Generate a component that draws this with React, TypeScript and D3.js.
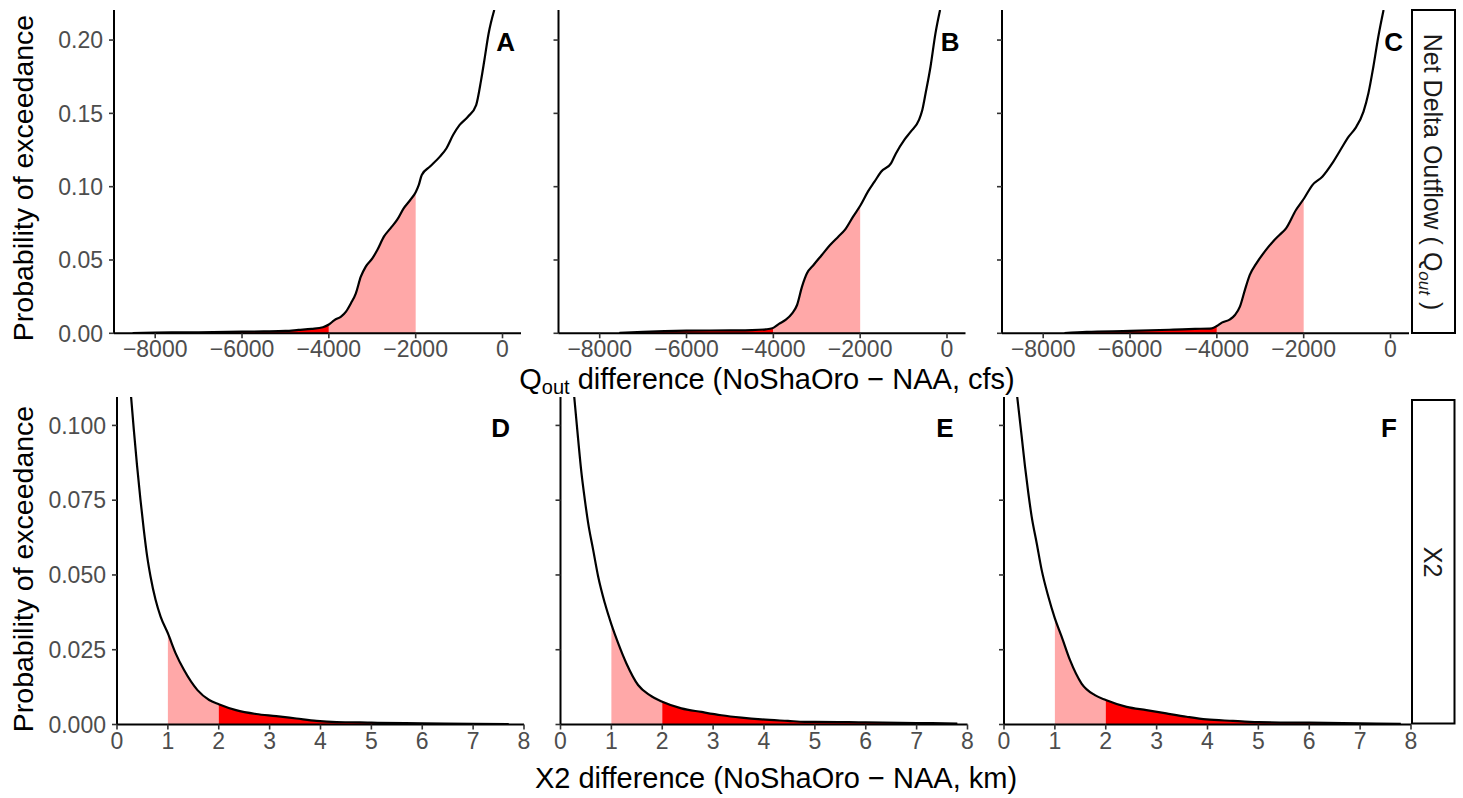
import React from 'react';
import * as d3 from 'd3';

type Pt = [number, number];

// ---------- tick values ----------
const qoutTicks = [-8000, -6000, -4000, -2000, 0];
const qoutProbTicks = [0, 0.05, 0.1, 0.15, 0.2];
const x2Ticks = [0, 1, 2, 3, 4, 5, 6, 7, 8];
const x2ProbTicks = [0, 0.025, 0.05, 0.075, 0.1];
const topLabels = ['A', 'B', 'C'];
const bottomLabels = ['D', 'E', 'F'];

// ---------- Net Delta Outflow: [Qout difference (cfs), probability of exceedance] ----------
const qoutA: Pt[] = [
  [-8520, 0.0002], [-8000, 0.0005], [-7000, 0.0007], [-6000, 0.0011], [-5500, 0.0013],
  [-5000, 0.0016], [-4700, 0.0023], [-4400, 0.003], [-4137, 0.0041], [-4000, 0.006],
  [-3871, 0.009], [-3719, 0.0114], [-3605, 0.0148], [-3491, 0.0205], [-3378, 0.0273],
  [-3264, 0.0386], [-3150, 0.0455], [-2998, 0.0511], [-2884, 0.0568], [-2732, 0.0659],
  [-2581, 0.0716], [-2429, 0.0773], [-2277, 0.0852], [-2125, 0.0909], [-2000, 0.0962],
  [-1930, 0.101], [-1860, 0.108], [-1670, 0.1137], [-1442, 0.1205], [-1290, 0.1262],
  [-1139, 0.1352], [-987, 0.1421], [-797, 0.1477], [-607, 0.1557], [-493, 0.1727],
  [-417, 0.1864], [-319, 0.2046], [-190, 0.2205],
];
const qoutB: Pt[] = [
  [-7550, 0.0002], [-7000, 0.001], [-6000, 0.0018], [-5000, 0.002], [-4500, 0.0022],
  [-4175, 0.0027], [-4023, 0.0034], [-3871, 0.0064], [-3719, 0.0091], [-3567, 0.0136],
  [-3454, 0.0193], [-3340, 0.0318], [-3226, 0.0409], [-3074, 0.0466], [-2884, 0.0534],
  [-2694, 0.0602], [-2505, 0.0659], [-2353, 0.0705], [-2163, 0.0796], [-1989, 0.0875],
  [-1822, 0.0966], [-1670, 0.1034], [-1518, 0.1102], [-1290, 0.1159], [-1177, 0.1227],
  [-987, 0.1318], [-835, 0.1375], [-645, 0.1455], [-569, 0.1523], [-493, 0.1637],
  [-380, 0.1818], [-266, 0.2046], [-160, 0.2205],
];
const qoutC: Pt[] = [
  [-7510, 0.0002], [-7000, 0.001], [-6000, 0.0016], [-5000, 0.0025], [-4500, 0.003],
  [-4114, 0.0034], [-4000, 0.005], [-3886, 0.0073], [-3696, 0.0095], [-3583, 0.0125],
  [-3469, 0.0182], [-3355, 0.0295], [-3241, 0.0398], [-3089, 0.0477], [-2899, 0.0557],
  [-2710, 0.0625], [-2558, 0.0671], [-2406, 0.0716], [-2178, 0.0841], [-1989, 0.0921],
  [-1799, 0.1011], [-1571, 0.1068], [-1343, 0.1159], [-1154, 0.125], [-964, 0.1341],
  [-812, 0.1398], [-622, 0.1512], [-509, 0.1637], [-395, 0.1818], [-281, 0.2023],
  [-160, 0.2205],
];

// ---------- X2: [X2 difference (km), probability of exceedance] ----------
const x2D: Pt[] = [
  [0.277, 0.1095], [0.33, 0.0987], [0.395, 0.0864], [0.461, 0.0752], [0.527, 0.0651],
  [0.593, 0.0562], [0.659, 0.0495], [0.758, 0.0417], [0.857, 0.0361], [1.0, 0.0305],
  [1.153, 0.0238], [1.318, 0.0182], [1.582, 0.0115], [1.812, 0.0082], [2.0, 0.0068],
  [2.339, 0.0048], [2.735, 0.0035], [3.13, 0.0028], [3.526, 0.002], [3.921, 0.0012],
  [4.316, 0.0008], [4.78, 0.0007], [5, 0.0006], [6, 0.0004], [7, 0.0002], [7.7, 0.0001],
];
const x2E: Pt[] = [
  [0.27, 0.1095], [0.347, 0.0953], [0.412, 0.0841], [0.478, 0.0752], [0.543, 0.0674],
  [0.642, 0.0584], [0.74, 0.0495], [0.871, 0.0406], [1.0, 0.0335], [1.133, 0.0272],
  [1.296, 0.0204], [1.525, 0.0132], [1.755, 0.0098], [2.0, 0.0076], [2.376, 0.0054],
  [2.77, 0.0042], [3.162, 0.0031], [3.555, 0.0023], [3.948, 0.0017], [4.47, 0.0012],
  [4.8, 0.0009], [5, 0.0009], [6, 0.0007], [7, 0.0005], [7.8, 0.0003],
];
const x2F: Pt[] = [
  [0.26, 0.1095], [0.347, 0.0964], [0.412, 0.0864], [0.478, 0.0774], [0.543, 0.0696],
  [0.642, 0.0607], [0.74, 0.0517], [0.871, 0.0428], [1.0, 0.0355], [1.133, 0.0294],
  [1.296, 0.0216], [1.525, 0.0137], [1.787, 0.0098], [2.0, 0.0082], [2.41, 0.0059],
  [2.8, 0.0048], [3.19, 0.0037], [3.59, 0.0026], [3.98, 0.0017], [4.5, 0.0012],
  [4.83, 0.0009], [5, 0.0008], [6, 0.0006], [7, 0.0004], [7.8, 0.0002],
];

// shading bands [from, to, colour]
const qoutBands: [number, number, string][] = [
  [-Infinity, -4000, '#FF0000'],
  [-4000, -2000, '#FFA8A8'],
];
const x2Bands: [number, number, string][] = [
  [1, 2, '#FFA8A8'],
  [2, Infinity, '#FF0000'],
];

const FONT = '"Liberation Sans", Arial, Helvetica, sans-serif';

function valueAt(data: Pt[], x: number): number {
  for (let i = 0; i < data.length - 1; i++) {
    const [x0, y0] = data[i];
    const [x1, y1] = data[i + 1];
    if (x >= x0 && x <= x1) return y0 + ((y1 - y0) * (x - x0)) / (x1 - x0);
  }
  return x < data[0][0] ? data[0][1] : data[data.length - 1][1];
}

function segment(data: Pt[], a: number, b: number): Pt[] {
  const lo = Math.max(a, data[0][0]);
  const hi = Math.min(b, data[data.length - 1][0]);
  const inner = data.filter((d) => d[0] > lo && d[0] < hi);
  return [[lo, valueAt(data, lo)], ...inner, [hi, valueAt(data, hi)]];
}

interface PanelProps {
  id: string;
  left: number;
  top: number;
  width: number;
  height: number;
  xDomain: [number, number];
  yDomain: [number, number];
  xTicks: number[];
  yTicks: number[];
  xFormat: (v: number) => string;
  yFormat: (v: number) => string;
  showYLabels: boolean;
  data: Pt[];
  bands: [number, number, string][];
  label: string;
  labelDx: number;
  labelY: number;
}

function Panel(p: PanelProps) {
  const x = d3.scaleLinear().domain(p.xDomain).range([p.left, p.left + p.width]);
  const y = d3.scaleLinear().domain(p.yDomain).range([p.top + p.height, p.top]);
  const line = d3
    .line<Pt>()
    .x((d) => x(d[0]))
    .y((d) => y(d[1]))
    .curve(d3.curveMonotoneX);
  const area = d3
    .area<Pt>()
    .x((d) => x(d[0]))
    .y0(y(0))
    .y1((d) => y(d[1]))
    .curve(d3.curveMonotoneX);
  const bottom = p.top + p.height;
  const clipId = `clip-${p.id}`;
  return (
    <g>
      <defs>
        <clipPath id={clipId}>
          <rect x={p.left} y={p.top} width={p.width} height={p.height} />
        </clipPath>
      </defs>
      <g clipPath={`url(#${clipId})`}>
        {p.bands.map(([a, b, c], i) => (
          <path key={i} d={area(segment(p.data, a, b)) || ''} fill={c} stroke="none" />
        ))}
        <path d={line(p.data) || ''} fill="none" stroke="#000" strokeWidth={2.2} />
      </g>
      {/* y axis */}
      <line x1={p.left} x2={p.left} y1={p.top} y2={bottom} stroke="#000" strokeWidth={2} />
      {p.yTicks.map((t) => (
        <g key={`y${t}`}>
          <line x1={p.left - 5} x2={p.left} y1={y(t)} y2={y(t)} stroke="#333" strokeWidth={1.6} />
          {p.showYLabels && (
            <text
              x={p.left - 11}
              y={y(t)}
              dy="0.36em"
              textAnchor="end"
              fontSize={23}
              fill="#4D4D4D"
              fontFamily={FONT}
            >
              {p.yFormat(t)}
            </text>
          )}
        </g>
      ))}
      {/* x axis */}
      <line x1={p.left} x2={p.left + p.width} y1={bottom} y2={bottom} stroke="#000" strokeWidth={2} />
      {p.xTicks.map((t) => (
        <g key={`x${t}`}>
          <line x1={x(t)} x2={x(t)} y1={bottom} y2={bottom + 5} stroke="#333" strokeWidth={1.6} />
          <text
            x={x(t)}
            y={bottom + 24}
            textAnchor="middle"
            fontSize={23}
            fill="#4D4D4D"
            fontFamily={FONT}
          >
            {p.xFormat(t)}
          </text>
        </g>
      ))}
      <text
        x={p.left + p.width - p.labelDx}
        y={p.labelY}
        textAnchor="end"
        fontSize={26}
        fontWeight="bold"
        fill="#000"
        fontFamily={FONT}
      >
        {p.label}
      </text>
    </g>
  );
}

export default function App() {
  const W = 1463;
  const H = 798;
  const pw = 407;

  const topLefts = [114, 558.5, 1002];
  const topY = 10;
  const topH = 323.3;
  const bottomLefts = [117, 560.5, 1004];
  const botY = 397;
  const botH = 327.5;

  const qoutData = [qoutA, qoutB, qoutC];
  const x2Data = [x2D, x2E, x2F];

  const fmtInt = d3.format('d');
  const fmt2 = d3.format('.2f');
  const fmt3 = d3.format('.3f');
  const fmtX2 = d3.format('d');

  return (
    <svg
      width={W}
      height={H}
      viewBox={`0 0 ${W} ${H}`}
      style={{ position: 'absolute', left: 0, top: 0, background: '#fff' }}
    >
      <rect x={0} y={0} width={W} height={H} fill="#fff" />

      {qoutData.map((d, i) => (
        <Panel
          key={`q${i}`}
          id={`q${i}`}
          left={topLefts[i]}
          top={topY}
          width={pw}
          height={topH}
          xDomain={[-8949, 426]}
          yDomain={[0, 0.2205]}
          xTicks={qoutTicks}
          yTicks={qoutProbTicks}
          xFormat={(v) => fmtInt(v)}
          yFormat={(v) => fmt2(v)}
          showYLabels={i === 0}
          data={d}
          bands={qoutBands}
          label={topLabels[i]}
          labelDx={6}
          labelY={51}
        />
      ))}

      {x2Data.map((d, i) => (
        <Panel
          key={`x${i}`}
          id={`x${i}`}
          left={bottomLefts[i]}
          top={botY}
          width={pw}
          height={botH}
          xDomain={[0, 8]}
          yDomain={[0, 0.1095]}
          xTicks={x2Ticks}
          yTicks={x2ProbTicks}
          xFormat={(v) => fmtX2(v)}
          yFormat={(v) => fmt3(v)}
          showYLabels={i === 0}
          data={d}
          bands={x2Bands}
          label={bottomLabels[i]}
          labelDx={14}
          labelY={437}
        />
      ))}

      {/* strips */}
      <rect x={1412} y={10} width={43} height={323} fill="#fff" stroke="#000" strokeWidth={2} />
      <text
        transform="translate(1424,172) rotate(90)"
        textAnchor="middle"
        fontSize={25}
        fill="#1A1A1A"
        fontFamily={FONT}
      >
        {'Net Delta Outflow ( Q'}
        <tspan dy={5} fontSize={17} fontStyle="italic">out</tspan>
        <tspan dy={-5}>{' )'}</tspan>
      </text>
      <rect x={1412} y={400} width={42.5} height={323.5} fill="#fff" stroke="#000" strokeWidth={2} />
      <text
        transform="translate(1424,562) rotate(90)"
        textAnchor="middle"
        fontSize={25}
        fill="#1A1A1A"
        fontFamily={FONT}
      >
        X2
      </text>

      {/* axis titles */}
      <text
        transform="translate(33,178) rotate(-90)"
        textAnchor="middle"
        fontSize={28.5}
        fill="#000"
        fontFamily={FONT}
      >
        Probability of exceedance
      </text>
      <text
        transform="translate(33,569) rotate(-90)"
        textAnchor="middle"
        fontSize={28.5}
        fill="#000"
        fontFamily={FONT}
      >
        Probability of exceedance
      </text>
      <text x={767} y={389} textAnchor="middle" fontSize={29} fill="#000" fontFamily={FONT}>
        {'Q'}
        <tspan dy={5} fontSize={20}>out</tspan>
        <tspan dy={-5}>{' difference (NoShaOro \u2212 NAA, cfs)'}</tspan>
      </text>
      <text x={776} y={788} textAnchor="middle" fontSize={29} fill="#000" fontFamily={FONT}>
        {'X2 difference (NoShaOro \u2212 NAA, km)'}
      </text>
    </svg>
  );
}
